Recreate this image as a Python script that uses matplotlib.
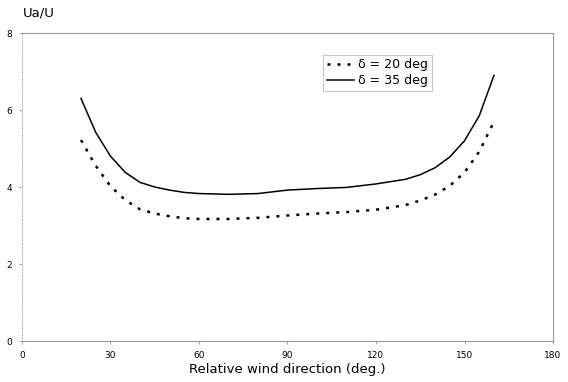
import matplotlib
matplotlib.use("Agg")
import matplotlib.pyplot as plt

# relative wind direction (deg) and Ua/U
direction = [20, 25, 30, 35, 40, 45, 50, 55, 60, 70, 80, 90, 100, 110, 120,
             130, 135, 140, 145, 150, 155, 160]
ua_20 = [5.22, 4.55, 4.02, 3.66, 3.42, 3.31, 3.24, 3.19, 3.17, 3.17, 3.2, 3.26,
         3.31, 3.35, 3.41, 3.53, 3.65, 3.8, 4.03, 4.38, 4.92, 5.7]
ua_35 = [6.3, 5.42, 4.8, 4.38, 4.12, 4.0, 3.92, 3.86, 3.83, 3.81, 3.83, 3.92,
         3.96, 3.99, 4.08, 4.2, 4.32, 4.5, 4.78, 5.2, 5.85, 6.9]
xticks = [0, 30, 60, 90, 120, 150, 180]
yticks = [0, 2, 4, 6, 8]

fig = plt.figure(figsize=(5.68, 3.82), dpi=100)
ax = fig.add_axes([0.0387, 0.1073, 0.9349, 0.8063])

ax.plot(direction, ua_20, color="black", lw=1.8, linestyle=(0, (1.2, 2.8)),
        label="δ = 20 deg")
ax.plot(direction, ua_35, color="black", lw=1.1, label="δ = 35 deg")

ax.set_xlim(0, 180)
ax.set_ylim(0, 8)
ax.set_xticks(xticks)
ax.set_yticks(yticks)
ax.tick_params(labelsize=6.5, length=2, color="#aaaaaa", pad=5)
for side in ("top", "right", "bottom"):
    ax.spines[side].set_color("#999999")
    ax.spines[side].set_linewidth(0.8)
ax.spines["left"].set_color("#bbbbbb")
ax.spines["left"].set_linestyle(":")
ax.spines["left"].set_linewidth(0.8)

ax.set_xlabel("Relative wind direction (deg.)", fontsize=9.5, labelpad=2)
fig.text(0.04, 0.965, "Ua/U", fontsize=9.5, ha="left", va="center")

leg = ax.legend(loc="upper left", bbox_to_anchor=(0.555, 0.95), fontsize=9,
                handlelength=2.2, handletextpad=0.3, borderpad=0.3,
                labelspacing=0.2, fancybox=False, framealpha=1)
leg.get_frame().set_edgecolor("#bbbbbb")
leg.get_frame().set_linewidth(0.6)

fig.savefig("out.png", dpi=100)
